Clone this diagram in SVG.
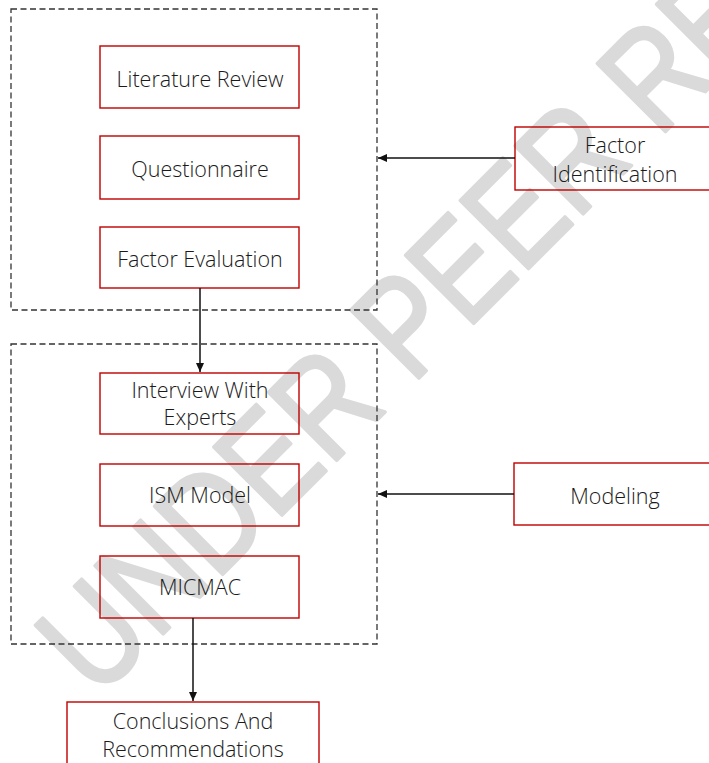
<svg xmlns="http://www.w3.org/2000/svg" width="709" height="763" viewBox="0 0 709 763">
<style>
.bg{fill:#ffffff}
.wm{font-family:"Liberation Sans",Arial,sans-serif;font-weight:normal;font-size:140px;fill:#dadada;stroke:#dadada;stroke-width:3.5;stroke-linejoin:round}
.group{fill:none;stroke:#333333;stroke-width:1.3;stroke-dasharray:6 3.5}
.box{fill:none;stroke:#c00000;stroke-width:1.4}
.lbl{font-family:"Open Sans","Noto Sans",sans-serif;font-weight:300;font-size:21.5px;fill:#1a1a1a;text-anchor:middle}
.conn{fill:none;stroke:#111111;stroke-width:1.5}
</style>
<defs>
<marker id="ah" markerWidth="10" markerHeight="8" refX="9" refY="4" orient="auto" markerUnits="userSpaceOnUse">
<path d="M0,0 L9,4 L0,8 Z" fill="#111111"/>
</marker>
</defs>
<rect class="bg" x="0" y="0" width="709" height="763"/>
<text class="wm" transform="translate(97,700) rotate(-45) scale(0.83,1)">UNDER PEER REVIEW</text>
<g id="group-identification"><rect class="group" x="11" y="9" width="366" height="301"/></g>
<g id="group-modeling"><rect class="group" x="11" y="344" width="366" height="300"/></g>
<g id="literature-review"><rect class="box" x="100" y="46" width="199" height="62"/><text class="lbl" x="200" y="87">Literature Review</text></g>
<g id="questionnaire"><rect class="box" x="100" y="136" width="199" height="63"/><text class="lbl" x="200" y="177">Questionnaire</text></g>
<g id="factor-evaluation"><rect class="box" x="100" y="227" width="199" height="61"/><text class="lbl" x="200" y="267">Factor Evaluation</text></g>
<g id="interview"><rect class="box" x="100" y="373" width="199" height="61"/><text class="lbl" x="200" y="398">Interview With</text><text class="lbl" x="200" y="425">Experts</text></g>
<g id="ism-model"><rect class="box" x="100" y="464" width="199" height="62"/><text class="lbl" x="200" y="503">ISM Model</text></g>
<g id="micmac"><rect class="box" x="100" y="556" width="199" height="62"/><text class="lbl" x="200" y="595">MICMAC</text></g>
<g id="conclusions"><rect class="box" x="67" y="702" width="252" height="75"/><text class="lbl" x="193" y="729">Conclusions And</text><text class="lbl" x="193" y="757">Recommendations</text></g>
<g id="factor-identification"><rect class="box" x="515" y="127" width="220" height="63"/><text class="lbl" x="615" y="153">Factor</text><text class="lbl" x="615" y="182">Identification</text></g>
<g id="modeling"><rect class="box" x="514" y="463" width="220" height="62"/><text class="lbl" x="615" y="504">Modeling</text></g>
<g id="connectors">
<line class="conn" x1="200" y1="288" x2="200" y2="372" marker-end="url(#ah)"/>
<line class="conn" x1="193" y1="618" x2="193" y2="701" marker-end="url(#ah)"/>
<line class="conn" x1="515" y1="158" x2="378" y2="158" marker-end="url(#ah)"/>
<line class="conn" x1="514" y1="494" x2="378" y2="494" marker-end="url(#ah)"/>
</g>
</svg>
